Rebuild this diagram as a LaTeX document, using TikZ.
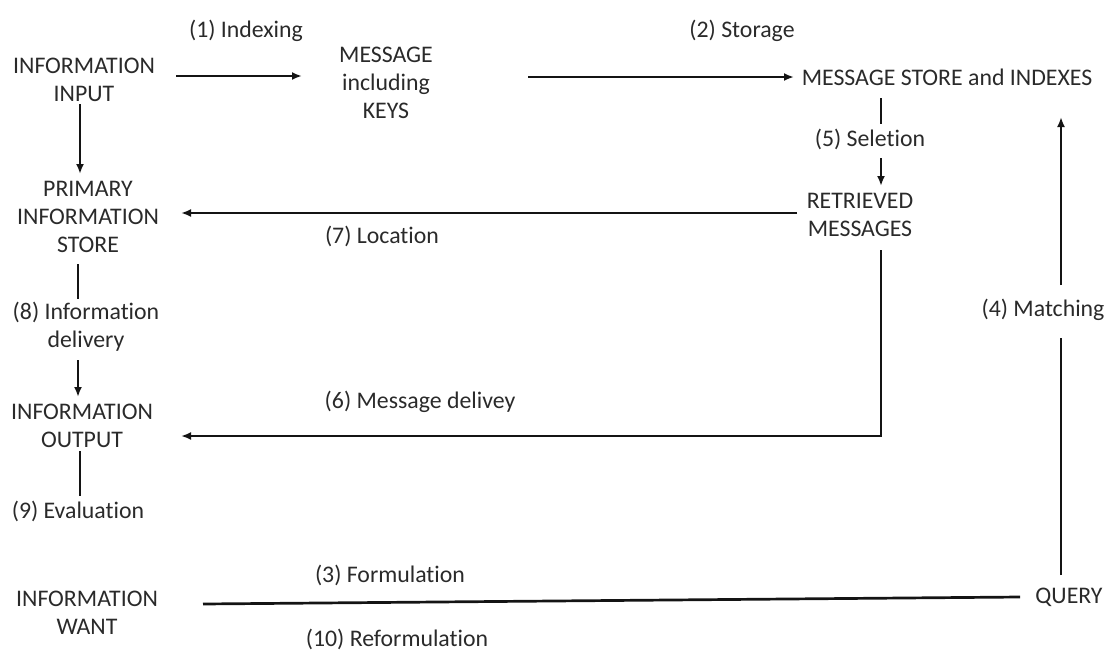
\documentclass[tikz,border=0pt]{standalone}
\usepackage{fontspec}
\setmainfont{Carlito}[Ligatures={NoCommon}]
\usetikzlibrary{arrows.meta}
\definecolor{ink}{HTML}{2A2A2A}
\definecolor{wire}{HTML}{141414}
\tikzset{
  lbl/.style={font=\fontsize{23.8}{28}\selectfont, text=ink, align=center, inner sep=0pt},
  link/.style={draw=wire, line width=2.7pt},
  flow/.style={link, -{Latex[length=10pt,width=8pt]}}
}
\begin{document}
\begin{tikzpicture}[x=1pt,y=-1pt]
\useasboundingbox (0,0) rectangle (1105,653);

% stages of the retrieval process
\node[lbl] (inp)   at (84,80)   {INFORMATION\\INPUT};
\node[lbl] (msg)   at (386,83)  {MESSAGE\\including\\KEYS};
\node[lbl] (store) at (947,77)  {MESSAGE STORE and INDEXES};
\node[lbl] (ret)   at (860,215) {RETRIEVED\\MESSAGES};
\node[lbl] (prim)  at (88,217)  {PRIMARY\\INFORMATION\\STORE};
\node[lbl] (out)   at (82,426)  {INFORMATION\\OUTPUT};
\node[lbl] (want)  at (87,613)  {INFORMATION\\WANT};
\node[lbl] (query) at (1069,597) {QUERY};

% numbered operations
\node[lbl] (l1)  at (246,31)  {(1) Indexing};
\node[lbl] (l2)  at (742,31)  {(2) Storage};
\node[lbl] (l5)  at (870,139) {(5) Seletion};
\node[lbl] (l7)  at (382,236) {(7) Location};
\node[lbl] (l8)  at (86,327)  {(8) Information\\delivery};
\node[lbl] (l6)  at (420,402) {(6) Message delivey};
\node[lbl] (l9)  at (78,511)  {(9) Evaluation};
\node[lbl] (l3)  at (390,575) {(3) Formulation};
\node[lbl] (l10) at (397,639) {(10) Reformulation};
\node[lbl] (l4)  at (1043,310) {(4) Matching};

% connector end points
\coordinate (inpE)   at (176,76);
\coordinate (msgW)   at (302,76);
\coordinate (msgE)   at (528,77);
\coordinate (storeW) at (794,77);
\coordinate (storeS) at (881,98);
\coordinate (l5N)    at (881,124);
\coordinate (l5S)    at (881,158);
\coordinate (retN)   at (881,186);
\coordinate (retW)   at (797,213);
\coordinate (primE)  at (181,213);
\coordinate (retS)   at (881,250);
\coordinate (bend)   at (881,436);
\coordinate (outE)   at (181,436);
\coordinate (inpS)   at (80,104);
\coordinate (primN)  at (80,174);
\coordinate (primS)  at (78,264);
\coordinate (l8N)    at (78,299);
\coordinate (l8S)    at (78,360);
\coordinate (outN)   at (78,397);
\coordinate (outS)   at (80,451);
\coordinate (l9N)    at (80,496);
\coordinate (wantE)  at (203,604);
\coordinate (queryW) at (1020,597);
\coordinate (queryN) at (1061,575);
\coordinate (l4S)    at (1061,338);
\coordinate (l4N)    at (1061,285);
\coordinate (storeSE) at (1061,117);

% (1) indexing and (2) storage
\draw[flow] (inpE) -- (msgW);
\draw[flow] (msgE) -- (storeW);

% (5) selection
\draw[link] (storeS) -- (l5N);
\draw[flow] (l5S) -- (retN);

% (7) location
\draw[flow] (retW) -- (primE);

% (6) message delivery
\draw[flow] (retS) -- (bend) -- (outE);

% left column
\draw[flow] (inpS) -- (primN);
\draw[link] (primS) -- (l8N);
\draw[flow] (l8S) -- (outN);
\draw[link] (outS) -- (l9N);

% (3) formulation
\draw[link] (wantE) -- (queryW);

% (4) matching
\draw[link] (queryN) -- (l4S);
\draw[flow] (l4N) -- (storeSE);
\end{tikzpicture}
\end{document}
